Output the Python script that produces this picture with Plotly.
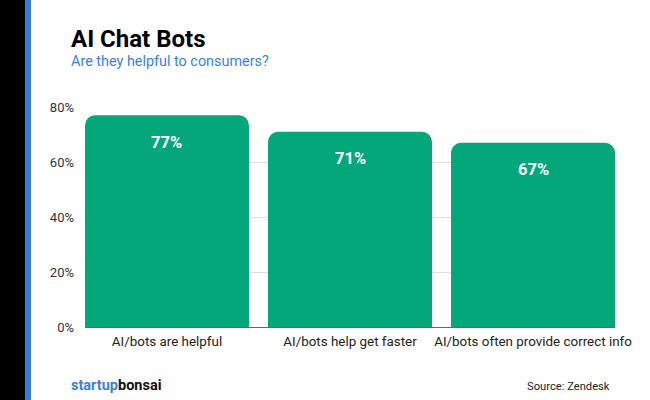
import plotly.graph_objects as go

categories = ["AI/bots are helpful", "AI/bots help get faster", "AI/bots often provide correct info"]
values = [77, 71, 67]
value_labels = ["77%", "71%", "67%"]
y_ticks = [0, 20, 40, 60, 80]
y_tick_labels = ["0%", "20%", "40%", "60%", "80%"]

GREEN = "#03a77a"
BLUE = "#3b7fe6"
FONT = "Roboto"

W, H = 650, 400
L, R, T, B = 85, 35, 107, 73
pw, ph = W - L - R, H - T - B

def px(x):
    return (x - L) / pw

def py(y):
    return (H - B - y) / ph

fig = go.Figure()
fig.add_trace(go.Bar(
    x=[0, 1, 2], y=values, marker_color=GREEN, marker_line_width=0,
    hoverinfo="skip",
))

annotations = []
for i, (v, lab) in enumerate(zip(values, value_labels)):
    annotations.append(dict(x=i, y=v, xref="x", yref="y", text=lab, showarrow=False,
                            yanchor="middle", yshift=-27,
                            font=dict(family=FONT, size=16.5, color="white", weight="bold")))

annotations += [
    dict(x=px(69), y=py(39), xref="paper", yref="paper", xanchor="left", yanchor="middle",
         text="<b>AI Chat Bots</b>", showarrow=False,
         font=dict(family=FONT, size=24, color="#000000")),
    dict(x=px(69), y=py(62), xref="paper", yref="paper", xanchor="left", yanchor="middle",
         text="Are they helpful to consumers?", showarrow=False,
         font=dict(family=FONT, size=14.4, color=BLUE)),
    dict(x=px(69), y=py(385), xref="paper", yref="paper", xanchor="left", yanchor="middle",
         text=f"<b><span style='color:{BLUE}'>startup</span>bonsai</b>", showarrow=False,
         font=dict(family=FONT, size=14.5, color="#111111")),
    dict(x=px(612), y=py(386), xref="paper", yref="paper", xanchor="right", yanchor="middle",
         text="Source: Zendesk", showarrow=False,
         font=dict(family=FONT, size=11.2, color="#222222")),
]

shapes = [
    dict(type="rect", xref="paper", yref="paper", x0=px(-5), x1=px(25), y0=py(H + 5), y1=py(-5),
         fillcolor="#000000", line_width=0, layer="above"),
    dict(type="rect", xref="paper", yref="paper", x0=px(25), x1=px(31), y0=py(H + 5), y1=py(-5),
         fillcolor="#3b7ddd", line_width=0, layer="above"),
]

fig.update_layout(
    width=W, height=H,
    margin=dict(l=L, r=R, t=T, b=B, pad=0),
    paper_bgcolor="white", plot_bgcolor="white",
    bargap=0.104, barcornerradius=10,
    showlegend=False,
    font=dict(family=FONT, size=13, color="#333333"),
    xaxis=dict(tickvals=[0, 1, 2], ticktext=categories, range=[-0.448, 2.448],
               showgrid=False, zeroline=False, showline=False, ticks="",
               ticklabelstandoff=5,
               tickfont=dict(family=FONT, size=13.4, color="#222222"), fixedrange=True),
    yaxis=dict(range=[0, 80], tickvals=y_ticks, ticktext=y_tick_labels,
               showgrid=True, gridcolor="#dddddd", gridwidth=1,
               zeroline=True, zerolinecolor="#666666", zerolinewidth=1,
               ticks="", ticklabelstandoff=10,
               tickfont=dict(family=FONT, size=13, color="#333333"), fixedrange=True),
    annotations=annotations,
    shapes=shapes,
)

fig.write_html("out.html", config={"displayModeBar": False},
               post_script="document.body.style.margin='0';document.body.style.overflow='hidden';")
